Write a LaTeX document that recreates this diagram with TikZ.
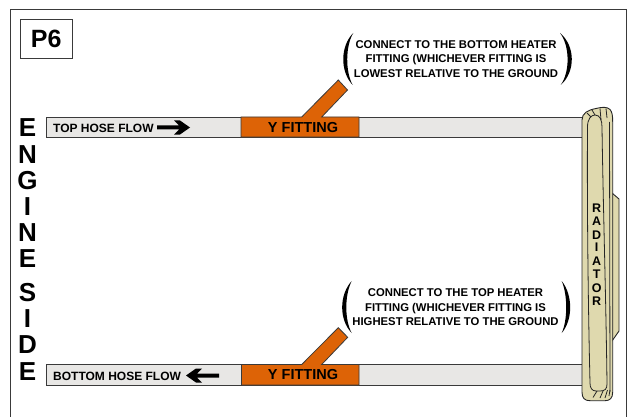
\documentclass[tikz,border=0pt]{standalone}
\usepackage{fontspec}
\setmainfont{Liberation Sans}
\definecolor{hose}{HTML}{E8E7E5}
\definecolor{fit}{HTML}{DD6306}
\definecolor{rad}{HTML}{DFD9AE}
\definecolor{edge}{HTML}{3A3A3A}
\tikzset{
  hosebar/.style={draw=edge,fill=hose,line width=0.9pt},
  fitting/.style={draw=edge,fill=fit,line width=0.8pt,line join=miter},
  radbody/.style={draw=black!85,fill=rad,line width=0.9pt,line join=round},
  radline/.style={draw=black!85,line width=0.8pt},
  sideletter/.style={font=\bfseries\fontsize{26}{26}\selectfont,inner sep=0pt,anchor=center},
  radletter/.style={font=\bfseries\fontsize{12.5}{12.5}\selectfont,inner sep=0pt,anchor=center},
  fitlabel/.style={font=\bfseries\fontsize{14.5}{14.5}\selectfont,inner sep=0pt},
  flowlabel/.style={font=\bfseries\fontsize{12}{12}\selectfont,inner sep=0pt,anchor=west},
  note/.style={font=\bfseries\fontsize{11.3}{14.2}\selectfont,inner sep=0pt,align=center},
  paren/.style={fill=black,draw=none}
}
\begin{document}
\begin{tikzpicture}[x=1pt,y=-1pt]
\useasboundingbox (0,0) rectangle (634,417);
\fill[white] (0,0) rectangle (634,417);
% frame, open at the bottom where the picture is cut
\draw[edge,line width=1pt] (10.5,417) -- (10.5,9.5) -- (626,9.5) -- (626,417);
\node[draw=edge,line width=0.9pt,minimum width=52.5pt,minimum height=38.5pt,inner sep=0pt,font=\bfseries\fontsize{25}{25}\selectfont] (title) at (46.2,39.2) {P6};
% hoses
\draw[hosebar] (46,117) rectangle (583,137);
\draw[hosebar] (46,364.5) rectangle (583,385);
% fittings
\draw[fitting] (241,137) -- (241,117) -- (301.7,117) -- (338.3,80) -- (347.5,90) -- (321.7,117) -- (359,117) -- (359,137) -- cycle;
\draw[fitting] (241.5,385) -- (241.5,364.5) -- (301.7,364.5) -- (338.3,327.7) -- (347.7,337.3) -- (321.7,364.5) -- (359,364.5) -- (359,385) -- cycle;
\node[fitlabel] (fit1) at (303,127.5) {Y FITTING};
\node[fitlabel] (fit2) at (303,375) {Y FITTING};
% flow labels and arrows
\node[flowlabel] (flow1) at (53,128) {TOP HOSE FLOW};
\node[flowlabel] (flow2) at (53,376) {BOTTOM HOSE FLOW};
\fill[black] (157,125.5) -- (179,125.5) -- (174,120.5) -- (180,120.5) -- (190,127.5) -- (180,134.5) -- (174,134.5) -- (179,129.5) -- (157,129.5) -- cycle;
\fill[black] (219,373.5) -- (197,373.5) -- (202,368.5) -- (196,368.5) -- (186,375.5) -- (196,382.5) -- (202,382.5) -- (197,377.5) -- (219,377.5) -- cycle;
% radiator
\draw[radbody] (612,193) -- (619,199) -- (619,331) -- (612,341) -- cycle;
\draw[radbody] (582,120) .. controls (582,113) and (588,110) .. (596,108.5) .. controls (602,107) and (607,106.5) .. (610,109.5) .. controls (612.2,112) and (612.7,116) .. (612.7,122) -- (612.7,392) .. controls (612.7,398) and (610,400.7) .. (605,400.7) -- (590,400.7) .. controls (584.5,400.7) and (582,398) .. (582,392) -- cycle;
\draw[radline] (590,383) .. controls (588,300) and (587,200) .. (587.5,127) .. controls (587.5,119) and (591,115) .. (595,115) .. controls (600,115) and (602,120) .. (602,127) .. controls (603,200) and (606,300) .. (607,384) .. controls (607,389) and (605,391) .. (600,391) -- (596,391) .. controls (592,391) and (590,388) .. (590,383) -- cycle;
\draw[radline] (609.5,122) -- (610,392);
\draw[radline] (587,113) -- (591,117) (592,110) -- (595,115) (600,108.5) -- (601,120) (606,108.5) -- (607,118);
\draw[radline] (593,397.5) -- (597,391) (600,398) -- (603,391) (605,398) -- (607.5,390) (609,396) -- (610,390);
\foreach \ch/\yy [count=\i] in {R/207.7,A/220.7,D/235,I/247.5,A/260.7,T/274,O/287.7,R/300.7}{
  \node[radletter] (radl\i) at (596.7,\yy) {\ch};
}
% engine side
\foreach \ch/\yy [count=\i] in {E/128,N/155,G/181,I/206.7,N/232.7,E/259,S/292.3,I/319,D/345,E/371.5}{
  \node[sideletter] (side\i) at (27.5,\yy) {\ch};
}
% notes
\node[note] (note1) at (456,59) {CONNECT TO THE BOTTOM HEATER\\FITTING (WHICHEVER FITTING IS\\LOWEST RELATIVE TO THE GROUND};
\node[note] (note2) at (455.5,307.3) {CONNECT TO THE TOP HEATER\\FITTING (WHICHEVER FITTING IS\\HIGHEST RELATIVE TO THE GROUND};
% parentheses
\fill[paren] (353.3,33) .. controls (340,46) and (340,72) .. (352.7,85) .. controls (345.3,72) and (345.3,46) .. (353.3,33) -- cycle;
\fill[paren] (560,33) .. controls (575.6,46) and (575.6,72) .. (560.7,85) .. controls (570,72) and (570,46) .. (560,33) -- cycle;
\fill[paren] (351.7,281) .. controls (339,295) and (339,320) .. (351.7,333) .. controls (344.5,320) and (344.5,295) .. (351.7,281) -- cycle;
\fill[paren] (561.7,281) .. controls (573,295) and (573,320) .. (561.7,333) .. controls (567.7,320) and (567.7,295) .. (561.7,281) -- cycle;
\end{tikzpicture}
\end{document}
